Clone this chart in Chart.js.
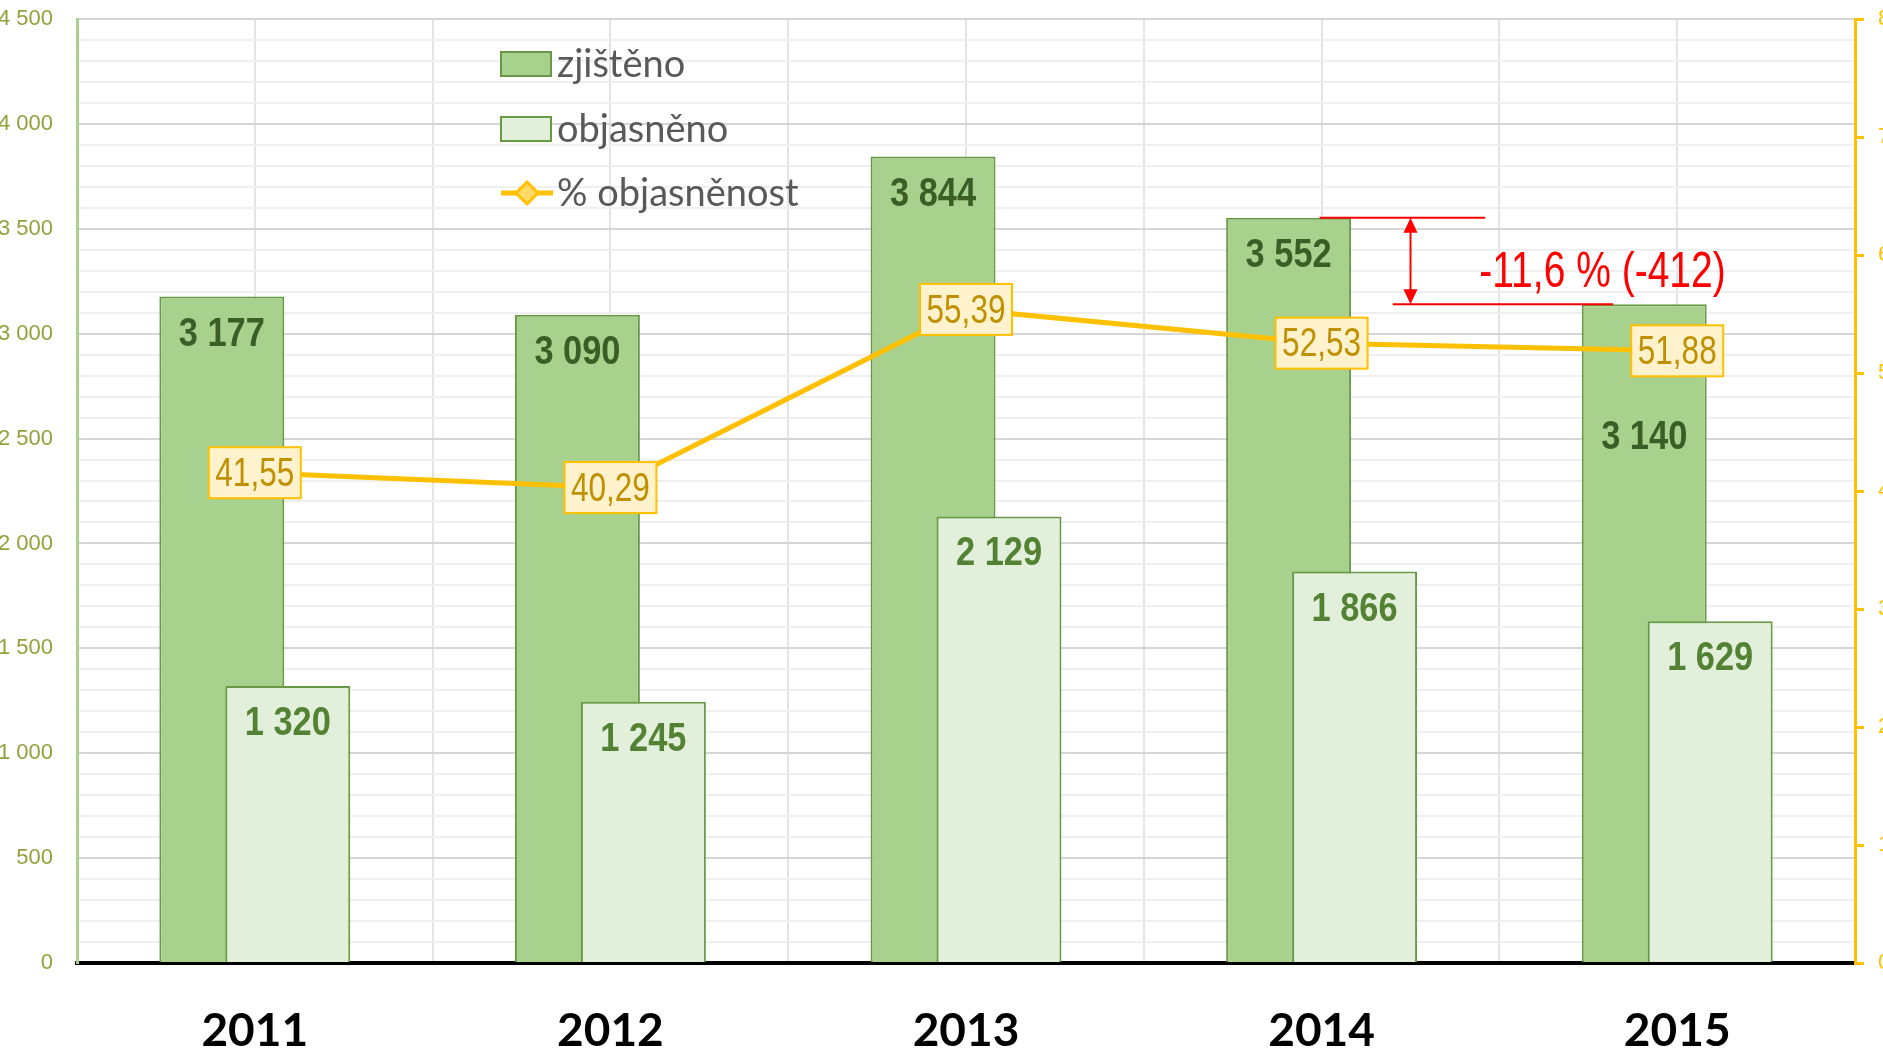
<!DOCTYPE html>
<html lang="cs">
<head>
<meta charset="utf-8">
<title>zjištěno / objasněno</title>
<script src="https://cdn.jsdelivr.net/npm/chart.js@4.4.1/dist/chart.umd.min.js"></script>
<style>
    html, body { margin: 0; padding: 0; background: #fff; overflow: hidden; }
    #wrap { position: relative; width: 1883px; height: 1052px; }
</style>
</head>
<body>
<div id="wrap"><canvas id="chart"></canvas></div>
<script>
(() => {
    "use strict";

    // ====== Data ======
    const years = ["2011", "2012", "2013", "2014", "2015"];
    const zjisteno = [3177, 3090, 3844, 3552, 3140];
    const objasneno = [1320, 1245, 2129, 1866, 1629];
    const objasnenost = [41.55, 40.29, 55.39, 52.53, 51.88];

    const leftAxis = { min: 0, max: 4500, major: 500, minor: 100 };
    const rightAxis = { min: 0, max: 80, step: 10 };

    // ====== Styles ======
    const SANS = '"Liberation Sans", Arial, sans-serif';
    const DARK_FILL = "#a9d18e";
    const LIGHT_FILL = "#e2efda";
    const BAR_EDGE = "#689a45";
    const GOLD = "#ffc000";

    const fmtInt = (v) => String(v).replace(/\B(?=(\d{3})+(?!\d))/g, " ");
    const fmtDec = (v) => v.toFixed(2).replace(".", ",");

    // narrow text: regular face squeezed horizontally
    function narrowText(ctx, text, x, y, font, squeeze) {
        ctx.save();
        ctx.font = font;
        ctx.translate(x, y);
        ctx.scale(squeeze, 1);
        ctx.fillText(text, 0, 0);
        ctx.restore();
    }

    // ====== Plugins ======
    // light bars overlap the dark ones and must sit above them (but below the line)
    const barLayering = {
        id: "barLayering",
        beforeDatasetDraw(chart, args) {
            if (chart.data.datasets[args.index].drawAbove !== undefined) return false;
        },
        afterDatasetDraw(chart, args) {
            chart.data.datasets.forEach((ds, i) => {
                if (ds.drawAbove === args.index) {
                    chart.getDatasetMeta(i).controller.draw();
                }
            });
        }
    };

    const valueLabels = {
        id: "valueLabels",
        afterDatasetsDraw(chart) {
            const ctx = chart.ctx;
            ctx.save();
            ctx.textAlign = "center";
            ctx.textBaseline = "middle";

            chart.data.datasets.forEach((ds, di) => {
                if (!ds.valueLabel) return;
                const meta = chart.getDatasetMeta(di);
                const cfg = ds.valueLabel;
                meta.data.forEach((el, i) => {
                    const v = ds.data[i];
                    if (v == null) return;
                    if (cfg.box) {
                        const w = 92, h = 51;
                        ctx.fillStyle = "#fff2cc";
                        ctx.strokeStyle = GOLD;
                        ctx.lineWidth = 2;
                        ctx.fillRect(el.x - w / 2, el.y - h / 2, w, h);
                        ctx.strokeRect(el.x - w / 2, el.y - h / 2, w, h);
                        ctx.fillStyle = cfg.color;
                        narrowText(ctx, fmtDec(v), el.x, el.y + 2, `41px ${SANS}`, 0.77);
                    } else {
                        const shift = (cfg.shift && cfg.shift[i]) || 0;
                        ctx.fillStyle = cfg.color;
                        narrowText(ctx, fmtInt(v), el.x, el.y + 38 + shift, `bold 40px ${SANS}`, 0.86);
                    }
                });
            });
            ctx.restore();
        }
    };

    const insideLegend = {
        id: "insideLegend",
        afterDatasetsDraw(chart) {
            const ctx = chart.ctx;
            const area = chart.chartArea;
            const x0 = area.left + 424;
            const rows = [64, 129, 193];
            const items = chart.data.datasets
                .filter((ds) => ds.legendRank !== undefined)
                .sort((a, b) => a.legendRank - b.legendRank);

            ctx.save();
            ctx.textBaseline = "middle";
            ctx.textAlign = "left";
            ctx.font = "38px Lato";
            items.forEach((ds, row) => {
                const y = rows[row];
                if (ds.type === "line") {
                    ctx.strokeStyle = ds.borderColor;
                    ctx.lineWidth = 5;
                    ctx.beginPath();
                    ctx.moveTo(x0, y);
                    ctx.lineTo(x0 + 52, y);
                    ctx.stroke();
                    ctx.fillStyle = "#ffd966";
                    ctx.lineWidth = 3;
                    ctx.beginPath();
                    ctx.moveTo(x0 + 26, y - 11);
                    ctx.lineTo(x0 + 37, y);
                    ctx.lineTo(x0 + 26, y + 11);
                    ctx.lineTo(x0 + 15, y);
                    ctx.closePath();
                    ctx.fill();
                    ctx.stroke();
                } else {
                    ctx.fillStyle = ds.backgroundColor;
                    ctx.strokeStyle = ds.borderColor;
                    ctx.lineWidth = 2;
                    ctx.fillRect(x0, y - 12, 50, 24);
                    ctx.strokeRect(x0, y - 12, 50, 24);
                }
                ctx.fillStyle = "#595959";
                ctx.fillText(ds.label, x0 + 56, y + 1);
            });
            ctx.restore();
        }
    };

    // change between 2014 and 2015 found cases
    const changeNote = {
        id: "changeNote",
        afterDatasetsDraw(chart) {
            const ctx = chart.ctx;
            const xs = chart.scales.x;
            const ys = chart.scales.y;
            const a = zjisteno[3], b = zjisteno[4];
            const cx = xs.getPixelForValue(3);
            const d = xs.getPixelForValue(4) - cx;
            const yTop = ys.getPixelForValue(a);
            const yBot = ys.getPixelForValue(b);
            const ax = cx + 0.25 * d;

            ctx.save();
            ctx.strokeStyle = "#ff0000";
            ctx.fillStyle = "#ff0000";
            ctx.lineWidth = 2;
            ctx.beginPath();
            ctx.moveTo(cx - 2, yTop);
            ctx.lineTo(cx + 0.46 * d, yTop);
            ctx.moveTo(cx + 0.2 * d, yBot);
            ctx.lineTo(cx + 0.82 * d, yBot);
            ctx.moveTo(ax, yTop + 12);
            ctx.lineTo(ax, yBot - 12);
            ctx.stroke();
            ctx.beginPath();
            ctx.moveTo(ax, yTop);
            ctx.lineTo(ax + 7, yTop + 15);
            ctx.lineTo(ax - 7, yTop + 15);
            ctx.closePath();
            ctx.moveTo(ax, yBot);
            ctx.lineTo(ax + 7, yBot - 15);
            ctx.lineTo(ax - 7, yBot - 15);
            ctx.closePath();
            ctx.fill();

            const pct = ((b - a) / a * 100).toFixed(1).replace(".", ",");
            ctx.textAlign = "center";
            ctx.textBaseline = "middle";
            narrowText(ctx, `${pct} % (${b - a})`, cx + 0.79 * d, (yTop + yBot) / 2 + 12, `50px ${SANS}`, 0.78);
            ctx.restore();
        }
    };

    const noPad = (s) => {
        s.paddingTop = 0;
        s.paddingBottom = 0;
        s.paddingLeft = 0;
        s.paddingRight = 0;
    };

    // helper axis for the vertical grid: one line per half category
    const halfSteps = Array(years.length * 2 + 1).fill("");

    // ====== Chart ======
    new Chart(document.getElementById("chart").getContext("2d"), {
        type: "bar",
        data: {
            labels: years,
            datasets: [
                {
                    type: "line",
                    label: "% objasněnost",
                    data: objasnenost,
                    yAxisID: "y1",
                    order: 0,
                    borderColor: GOLD,
                    borderWidth: 5,
                    pointStyle: "rectRot",
                    pointRadius: 9,
                    pointBackgroundColor: "#ffd966",
                    pointBorderColor: GOLD,
                    tension: 0,
                    legendRank: 2,
                    valueLabel: { box: true, color: "#bf9000" }
                },
                {
                    label: "zjištěno",
                    data: zjisteno,
                    yAxisID: "y",
                    order: 1,
                    backgroundColor: DARK_FILL,
                    borderColor: BAR_EDGE,
                    borderWidth: 2,
                    legendRank: 0,
                    valueLabel: { color: "#3b5e26", shift: [0, 0, 0, 0, 96] }
                },
                {
                    label: "objasněno",
                    data: objasneno,
                    yAxisID: "y",
                    order: 2,
                    drawAbove: 1,
                    backgroundColor: LIGHT_FILL,
                    borderColor: BAR_EDGE,
                    borderWidth: 2,
                    legendRank: 1,
                    valueLabel: { color: "#548235" }
                }
            ]
        },
        options: {
            responsive: true,
            maintainAspectRatio: false,
            animation: false,
            layout: { padding: { top: 19, left: 0, right: 0, bottom: 0 } },
            datasets: {
                bar: { categoryPercentage: 0.371, barPercentage: 1.894 }
            },
            plugins: {
                legend: { display: false },
                tooltip: { enabled: false }
            },
            scales: {
                x: {
                    type: "category",
                    position: "bottom",
                    offset: true,
                    grid: { display: true, drawOnChartArea: false, drawTicks: false },
                    border: { display: true, color: "#000", width: 4 },
                    ticks: {
                        color: "#000",
                        font: { family: "Lato", size: 46, weight: "bold" },
                        padding: 41
                    },
                    afterFit: (s) => { s.height = 89; noPad(s); }
                },
                xg: {
                    type: "category",
                    position: "top",
                    labels: halfSteps,
                    offset: false,
                    ticks: { display: false },
                    grid: { color: "#e4e4e4", lineWidth: 2, drawTicks: false, offset: false },
                    border: { display: false },
                    afterFit: (s) => { s.height = 0; noPad(s); }
                },
                y: {
                    type: "linear",
                    position: "left",
                    min: leftAxis.min,
                    max: leftAxis.max,
                    ticks: {
                        stepSize: leftAxis.minor,
                        autoSkip: false,
                        color: "#93a13c",
                        font: { family: SANS, size: 22 },
                        padding: 24,
                        callback: (v) => (v % leftAxis.major === 0 ? fmtInt(v) : "")
                    },
                    grid: {
                        color: (c) => (c.tick && c.tick.value % leftAxis.major === 0 ? "#d6d6d6" : "#efefef"),
                        lineWidth: 2,
                        drawTicks: false
                    },
                    border: { color: DARK_FILL, width: 3 },
                    afterFit: (s) => { s.width = 77; noPad(s); }
                },
                y1: {
                    type: "linear",
                    position: "right",
                    min: rightAxis.min,
                    max: rightAxis.max,
                    ticks: {
                        stepSize: rightAxis.step,
                        color: GOLD,
                        font: { family: SANS, size: 22 },
                        padding: 14
                    },
                    grid: {
                        drawOnChartArea: false,
                        tickLength: 9,
                        color: GOLD,
                        lineWidth: 3
                    },
                    border: { color: GOLD, width: 3 },
                    afterFit: (s) => { s.width = 28; noPad(s); }
                }
            }
        },
        plugins: [barLayering, valueLabels, insideLegend, changeNote]
    });
})();
</script>
</body>
</html>
